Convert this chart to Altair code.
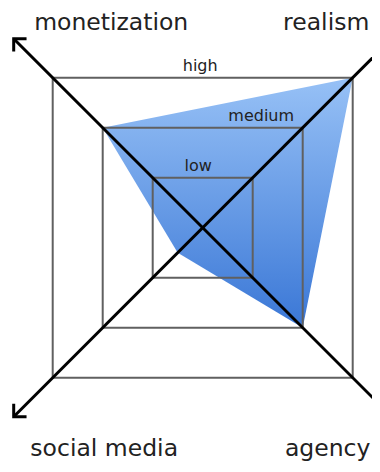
import altair as alt
import pandas as pd

# ---- data ----
axis_names = ["monetization", "realism", "agency", "social media"]
axis_dir_x = [-1, 1, 1, -1]
axis_dir_y = [1, 1, -1, -1]
scores = [2, 3, 2, 0.5]          # low = 1, medium = 2, high = 3
level_names = ["low", "medium", "high"]
level_values = [1, 2, 3]

# ---- layout (data units, 50 px per unit) ----
W, H = 364, 456
X_DOM = [-3.894, -3.894 + W / 50]
Y_DOM = [4.394 - H / 50, 4.394]
ARROW_LEN = 3.78
label_x = {"monetization": -1.83, "realism": 2.47, "agency": 2.50, "social media": -1.97}
label_y = {"monetization": 3.955, "realism": 3.955, "agency": -4.57, "social media": -4.57}
level_dx = {"low": -0.09, "medium": 1.17, "high": -0.05}

xs = alt.Scale(domain=X_DOM, nice=False, zero=False)
ys = alt.Scale(domain=Y_DOM, nice=False, zero=False)

# polygon
poly = pd.DataFrame({
    "x": [dx * v for dx, v in zip(axis_dir_x, scores)] + [axis_dir_x[0] * scores[0]],
    "y": [dy * v for dy, v in zip(axis_dir_y, scores)] + [axis_dir_y[0] * scores[0]],
    "o": list(range(len(scores) + 1)),
})
grad = alt.LinearGradient(
    gradient="linear",
    stops=[alt.GradientStop(color="#97c1f6", offset=0),
           alt.GradientStop(color="#3a77d6", offset=1)],
    x1=0, x2=0, y1=0, y2=1,
)
poly_layer = alt.Chart(poly).mark_line(fill=grad, strokeWidth=0, stroke="#5a8fe0").encode(
    x=alt.X("x:Q", scale=xs, axis=None),
    y=alt.Y("y:Q", scale=ys, axis=None),
    order="o:Q",
)

# squares
sq = pd.DataFrame({"name": level_names, "v": level_values})
sq["nv"] = -sq["v"]
sq_layer = alt.Chart(sq).mark_rect(fill=None, stroke="#606060", strokeWidth=2).encode(
    x=alt.X("nv:Q", scale=xs, axis=None),
    x2="v:Q",
    y=alt.Y("nv:Q", scale=ys, axis=None),
    y2="v:Q",
)

# level labels
lv = pd.DataFrame({"name": level_names, "v": level_values})
lv["lx"] = [level_dx[n] for n in level_names]
lv["ly"] = lv["v"] + 0.13
lv_layer = alt.Chart(lv).mark_text(font="DejaVu Sans", fontSize=16, color="#222",
                                   baseline="alphabetic", align="center").encode(
    x=alt.X("lx:Q", scale=xs, axis=None),
    y=alt.Y("ly:Q", scale=ys, axis=None),
    text="name:N",
)

# arrows
ar = pd.DataFrame({
    "name": axis_names,
    "x": [d * ARROW_LEN for d in axis_dir_x],
    "y": [d * ARROW_LEN for d in axis_dir_y],
})
ar["ang"] = [315, 45, 135, 225]
lines = pd.DataFrame({
    "x": [ar.x[0], ar.x[1]], "y": [ar.y[0], ar.y[1]],
    "x2": [ar.x[2], ar.x[3]], "y2": [ar.y[2], ar.y[3]],
})
line_layer = alt.Chart(lines).mark_rule(color="black", strokeWidth=3).encode(
    x=alt.X("x:Q", scale=xs, axis=None), y=alt.Y("y:Q", scale=ys, axis=None),
    x2="x2:Q", y2="y2:Q",
)
head_layer = alt.Chart(ar).mark_point(shape="M-1,1L0,0L1,1", filled=False, stroke="black",
                                      strokeWidth=3, size=330, opacity=1,
                                      strokeJoin="miter").encode(
    x=alt.X("x:Q", scale=xs, axis=None), y=alt.Y("y:Q", scale=ys, axis=None),
    angle=alt.Angle("ang:Q", scale=None),
)

# axis labels
al = pd.DataFrame({"name": axis_names})
al["lx"] = [label_x[n] for n in axis_names]
al["ly"] = [label_y[n] for n in axis_names]
al_layer = alt.Chart(al).mark_text(font="DejaVu Sans", fontSize=23.5, color="#222",
                                   baseline="alphabetic", align="center").encode(
    x=alt.X("lx:Q", scale=xs, axis=None),
    y=alt.Y("ly:Q", scale=ys, axis=None),
    text="name:N",
)

chart = alt.layer(poly_layer, sq_layer, lv_layer, line_layer, head_layer, al_layer).properties(
    width=W, height=H, autosize="none", padding=0,
).configure_view(stroke=None)

chart.save("out.html", embed_options={"renderer": "svg", "actions": False})
